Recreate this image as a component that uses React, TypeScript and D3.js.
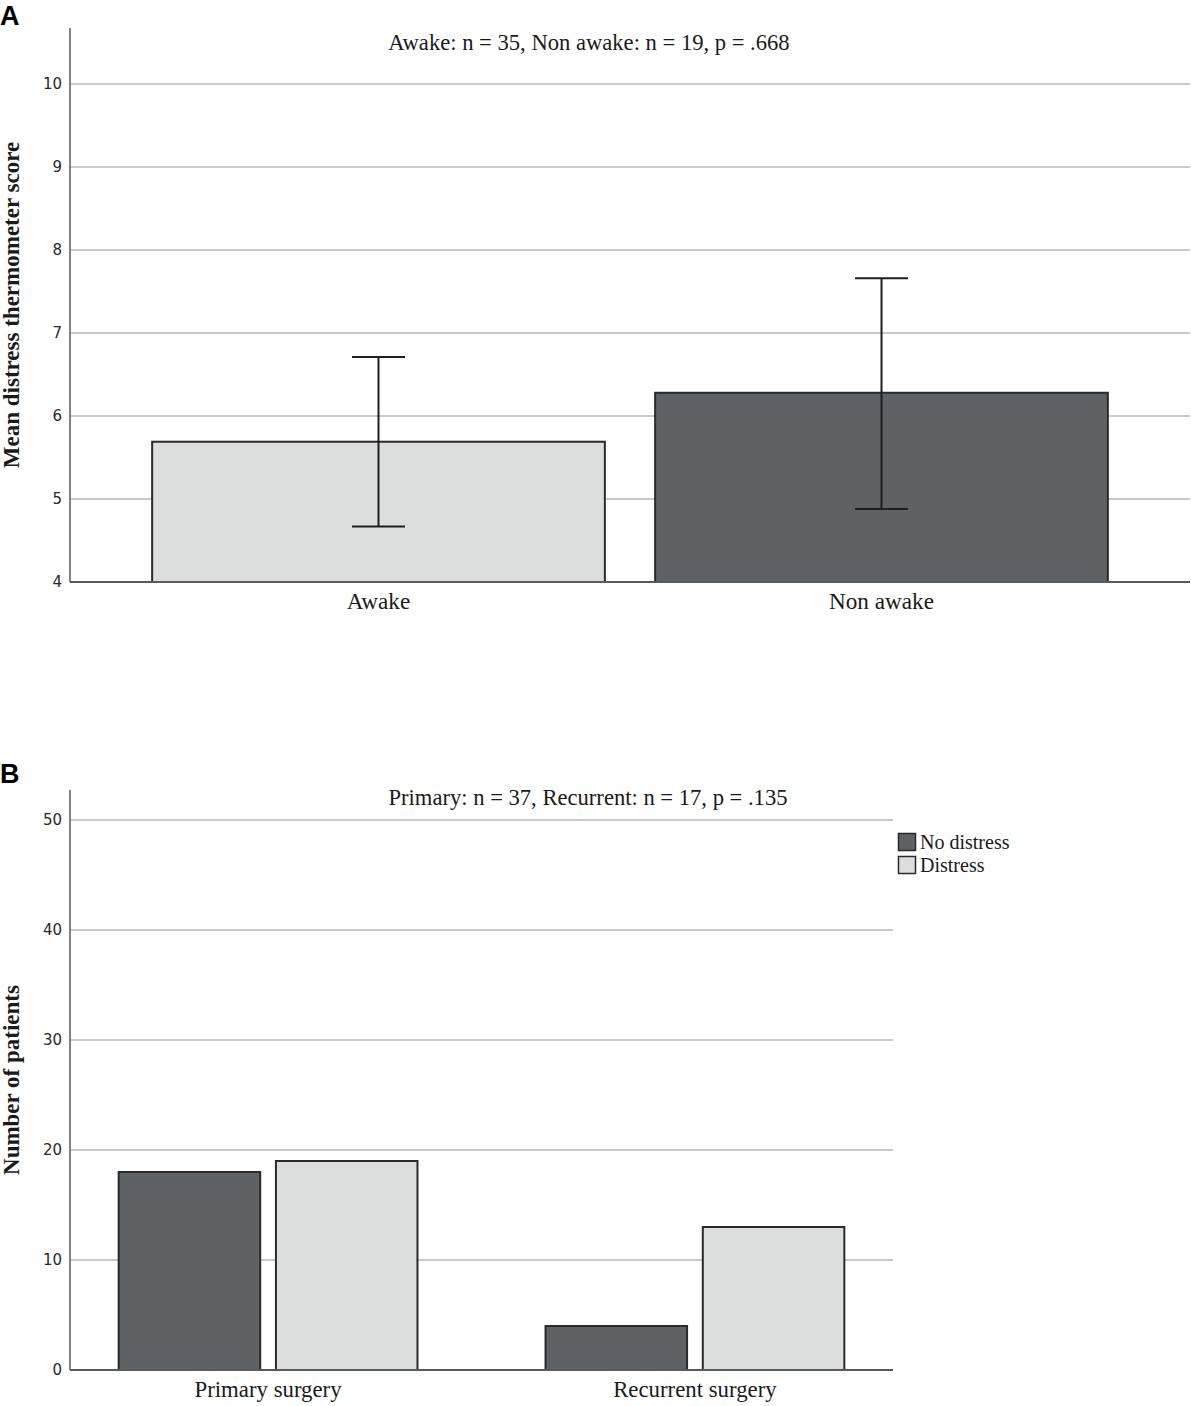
import * as d3 from "d3";

const groupsA = ["Awake", "Non awake"];
const meansA = [5.69, 6.28];
const lowerA = [4.67, 4.88];
const upperA = [6.71, 7.66];
const ticksA = [4, 5, 6, 7, 8, 9, 10];
const titleA = "Awake: n = 35, Non awake: n = 19, p = .668";

const groupsB = ["Primary surgery", "Recurrent surgery"];
const seriesB = ["No distress", "Distress"];
const noDistress = [18, 4];
const distress = [19, 13];
const ticksB = [0, 10, 20, 30, 40, 50];
const titleB = "Primary: n = 37, Recurrent: n = 17, p = .135";

const W = 1191;
const H = 1406;
const DARK = "#5f6264";
const LIGHT = "#dcdddd";
const EDGE = "#2a2a2a";
const GRID = "#c9c9c9";
const AXIS = "#5a5a5a";
const SERIF = "'Liberation Serif', 'Times New Roman', serif";
const SANS = "'DejaVu Sans', sans-serif";

export default function App() {
  // panel A
  const yA = d3.scaleLinear().domain([4, 10]).range([582, 84]);
  const xA = d3.scaleBand().domain(groupsA).range([127, 1133]).paddingInner(0.1).paddingOuter(0.05);
  const fillA = [LIGHT, DARK];

  // panel B
  const yB = d3.scaleLinear().domain([0, 50]).range([1370, 820]);
  const xB = d3.scaleBand().domain(groupsB).range([70, 893]).paddingInner(0.3).paddingOuter(0.114);
  const xSub = d3.scaleBand().domain(seriesB).range([0, xB.bandwidth()]).paddingInner(0.1);
  const colorB = d3.scaleOrdinal<string, string>().domain(seriesB).range([DARK, LIGHT]);
  const valuesB = [noDistress, distress];

  return (
    <svg width={W} height={H} style={{ position: "absolute", left: 0, top: 0, background: "#fff" }}>
      {/* ---------- A ---------- */}
      <text x={0} y={25} fontFamily="'Liberation Sans', Arial, sans-serif" fontWeight="bold" fontSize={27}>A</text>
      {ticksA.slice(1).map(t => (
        <line key={t} x1={70} x2={1190} y1={yA(t)} y2={yA(t)} stroke={GRID} strokeWidth={2} />
      ))}
      {groupsA.map((g, i) => (
        <rect key={g} x={xA(g)} y={yA(meansA[i])} width={xA.bandwidth()} height={yA(4) - yA(meansA[i])}
          fill={fillA[i]} stroke={EDGE} strokeWidth={2} />
      ))}
      {groupsA.map((g, i) => {
        const cx = xA(g)! + xA.bandwidth() / 2;
        return (
          <g key={g} stroke="#1e1e1e" strokeWidth={2}>
            <line x1={cx} x2={cx} y1={yA(upperA[i])} y2={yA(lowerA[i])} />
            <line x1={cx - 26.5} x2={cx + 26.5} y1={yA(upperA[i])} y2={yA(upperA[i])} />
            <line x1={cx - 26.5} x2={cx + 26.5} y1={yA(lowerA[i])} y2={yA(lowerA[i])} />
          </g>
        );
      })}
      <line x1={70} x2={70} y1={28} y2={582} stroke={AXIS} strokeWidth={1.5} />
      <line x1={70} x2={1190} y1={582} y2={582} stroke={AXIS} strokeWidth={2} />
      {ticksA.map(t => (
        <text key={t} x={62} y={yA(t)} dy="0.36em" textAnchor="end" fontFamily={SANS} fontSize={15} fill="#2a2a2a">{t}</text>
      ))}
      {groupsA.map(g => (
        <text key={g} x={xA(g)! + xA.bandwidth() / 2} y={609} textAnchor="middle" fontFamily={SERIF} fontSize={23.2} fill="#1a1a1a">{g}</text>
      ))}
      <text x={589} y={50} textAnchor="middle" fontFamily={SERIF} fontSize={22.6} fill="#1a1a1a">{titleA}</text>
      <text transform="translate(19,305) rotate(-90)" textAnchor="middle" fontFamily={SERIF} fontWeight="bold" fontSize={23} fill="#1a1a1a">
        Mean distress thermometer score
      </text>

      {/* ---------- B ---------- */}
      <text x={0} y={783} fontFamily="'Liberation Sans', Arial, sans-serif" fontWeight="bold" fontSize={27}>B</text>
      {ticksB.slice(1).map(t => (
        <line key={t} x1={70} x2={893} y1={yB(t)} y2={yB(t)} stroke={GRID} strokeWidth={2} />
      ))}
      {groupsB.map((g, gi) => (
        <g key={g} transform={`translate(${xB(g)},0)`}>
          {seriesB.map((s, si) => (
            <rect key={s} x={xSub(s)} y={yB(valuesB[si][gi])} width={xSub.bandwidth()}
              height={yB(0) - yB(valuesB[si][gi])} fill={colorB(s)} stroke={EDGE} strokeWidth={2} />
          ))}
        </g>
      ))}
      <line x1={70} x2={70} y1={790} y2={1370} stroke={AXIS} strokeWidth={1.5} />
      <line x1={70} x2={893} y1={1370} y2={1370} stroke={AXIS} strokeWidth={2} />
      {ticksB.map(t => (
        <text key={t} x={62} y={yB(t)} dy="0.36em" textAnchor="end" fontFamily={SANS} fontSize={15} fill="#2a2a2a">{t}</text>
      ))}
      {groupsB.map(g => (
        <text key={g} x={xB(g)! + xB.bandwidth() / 2} y={1397} textAnchor="middle" fontFamily={SERIF} fontSize={22.8} fill="#1a1a1a">{g}</text>
      ))}
      <text x={588} y={805} textAnchor="middle" fontFamily={SERIF} fontSize={22.6} fill="#1a1a1a">{titleB}</text>
      <text transform="translate(19,1080) rotate(-90)" textAnchor="middle" fontFamily={SERIF} fontWeight="bold" fontSize={23} fill="#1a1a1a">
        Number of patients
      </text>
      {seriesB.map((s, i) => (
        <g key={s} transform={`translate(898,${833 + i * 23})`}>
          <rect x={0.5} y={0.5} width={17} height={17} fill={colorB(s)} stroke={EDGE} strokeWidth={1.5} />
          <text x={22} y={16} fontFamily={SERIF} fontSize={20} fill="#1a1a1a">{s}</text>
        </g>
      ))}
    </svg>
  );
}
